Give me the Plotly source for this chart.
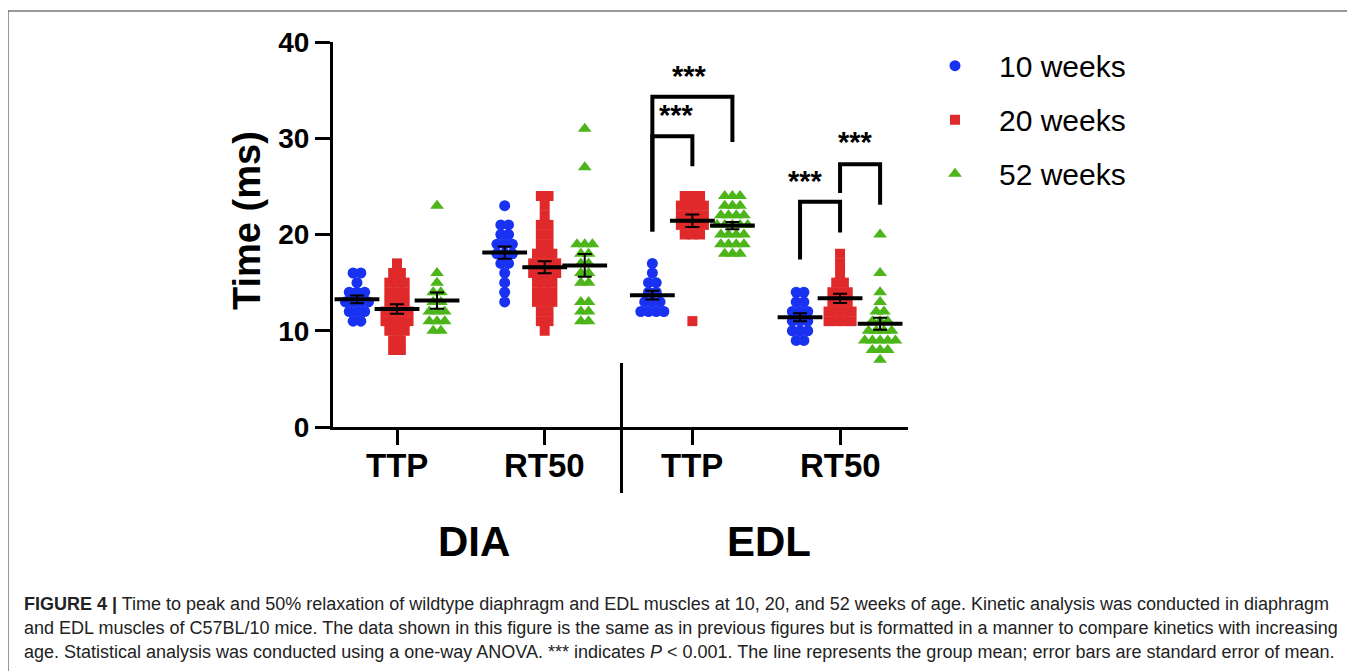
import numpy as np
import plotly.graph_objects as go

# ---------------- data ----------------
categories = ["TTP", "RT50", "TTP", "RT50"]
muscles = ["DIA", "EDL"]
series_names = ["10 weeks", "20 weeks", "52 weeks"]

# values (ms) per group
w10_values = [
    [11, 11, 12, 12, 12, 13, 13, 13, 13, 14, 14, 14, 15, 16, 16],
    [13, 14, 15, 16, 17, 17, 18, 18, 18, 19, 19, 19, 20, 20, 21, 21, 23],
    [12, 12, 12, 12, 13, 13, 13, 14, 14, 15, 15, 16, 17],
    [9, 9, 10, 10, 10, 11, 11, 11, 12, 12, 12, 13, 13, 14, 14],
]
w20_values = [
    [8, 8, 9, 9, 10, 10, 10, 11, 11, 11, 11, 12, 12, 12, 12, 13, 13, 13,
     14, 14, 14, 15, 15, 15, 16, 16, 17],
    [10, 11, 11, 12, 12, 13, 13, 13, 14, 14, 14, 15, 15, 15, 16, 16, 16, 16,
     17, 17, 17, 17, 18, 18, 18, 19, 19, 20, 20, 21, 21, 22, 23, 24, 24],
    [11, 20, 20, 20, 21, 21, 21, 21, 22, 22, 22, 22, 23, 23, 23, 23, 24, 24, 24],
    [11, 11, 11, 11, 12, 12, 12, 12, 13, 13, 13, 14, 14, 14, 15, 15, 16, 17, 18],
]
w52_values = [
    [10, 10, 11, 11, 11, 12, 12, 12, 13, 13, 14, 14, 15, 16, 23],
    [11, 11, 12, 12, 13, 13, 15, 15, 16, 16, 17, 17, 18, 18, 19, 19, 19, 27, 31],
    [18, 18, 18, 19, 19, 19, 19, 20, 20, 20, 20, 21, 21, 21, 21, 21,
     22, 22, 22, 22, 23, 23, 23, 24, 24, 24],
    [7, 8, 8, 8, 9, 9, 9, 9, 9, 10, 10, 10, 10, 11, 11, 11, 12, 12, 13, 14, 16, 20],
]
all_values = [w10_values, w20_values, w52_values]

# significance comparisons: (category index, series a, series b, label)
comparisons = [
    (2, 0, 2, "***"),
    (2, 0, 1, "***"),
    (3, 0, 1, "***"),
    (3, 1, 2, "***"),
]

# ---------------- style ----------------
colors = ["#1932F2", "#E0292B", "#4BB51A"]
symbols = ["circle", "square", "triangle-up"]
msizes = [11, 10, 12]
offsets = [-0.271, 0.0, 0.271]
spread = 0.052  # horizontal spacing of stacked points (category units)

# bracket geometry: top, left-leg bottom, right-leg bottom, star x shift, star y
bracket_geom = [
    (34.3, 20.3, 29.6, -0.02, 36.5),
    (30.2, 20.3, 27.1, 0.03, 32.4),
    (23.4, 17.4, 20.2, -0.10, 25.6),
    (27.3, 24.3, 23.1, -0.03, 29.6),
]

FONT = "Arial, Liberation Sans, Helvetica, sans-serif"

# page offset (browser body margin) compensation
OFF = 8
AX_L, AX_B = 333, 427          # screen px of axes origin
PW, PH = 575, 385              # plot area size


def px_x(px):
    return (px - AX_L) / PW


def px_y(py):
    return (AX_B - py) / PH


fig = go.Figure()

means_x, means_y, sems = [], [], []
for s, name in enumerate(series_names):
    xs, ys = [], []
    for c, vals in enumerate(all_values[s]):
        arr = np.array(vals, dtype=float)
        base = c + offsets[s]
        uniq, counts = np.unique(arr, return_counts=True)
        for u, n in zip(uniq, counts):
            for k in range(n):
                xs.append(base + (k - (n - 1) / 2) * spread)
                ys.append(u)
        means_x.append(base)
        means_y.append(arr.mean())
        sems.append(arr.std(ddof=1) / np.sqrt(len(arr)))
    fig.add_trace(go.Scatter(
        x=xs, y=ys, mode="markers", name=name,
        legendgroup=name,
        marker=dict(color=colors[s], symbol=symbols[s], size=msizes[s],
                    line=dict(width=0)),
    ))

fig.add_trace(go.Scatter(
    x=means_x, y=means_y, mode="markers", showlegend=False,
    marker=dict(symbol="line-ew", size=32, color="black",
                line=dict(color="black", width=4)),
    error_y=dict(type="data", array=sems, visible=True, color="black",
                 thickness=2, width=7),
    hoverinfo="skip",
))

# significance brackets
for (c, a, b, lab), (top, ya, yb, sx, sy) in zip(comparisons, bracket_geom):
    xa = c + offsets[a]
    xb = c + offsets[b]
    fig.add_shape(type="path",
                  path=f"M {xa},{ya} L {xa},{top} L {xb},{top} L {xb},{yb}",
                  xref="x", yref="y", line=dict(color="black", width=4))
    fig.add_annotation(x=(xa + xb) / 2 + sx, y=sy, xref="x", yref="y",
                       text=f"<b>{lab}</b>", showarrow=False,
                       xanchor="center", yanchor="middle",
                       font=dict(family=FONT, size=29, color="black"))

# category tick labels
for i, cat in enumerate(categories):
    fig.add_annotation(x=i, y=px_y(466), xref="x", yref="paper",
                       text=f"<b>{cat}</b>", showarrow=False,
                       xanchor="center", yanchor="middle",
                       font=dict(family=FONT, size=33, color="black"))

# separator between muscles
fig.add_shape(type="line", x0=1.52, x1=1.52, y0=px_y(493), y1=px_y(363),
              xref="x", yref="paper", line=dict(color="black", width=3))

# muscle labels
for i, m in enumerate(muscles):
    fig.add_annotation(x=0.5 + 2 * i + 0.02, y=px_y(541), xref="x", yref="paper",
                       text=f"<b>{m}</b>", showarrow=False,
                       xanchor="center", yanchor="middle",
                       font=dict(family=FONT, size=42, color="black"))

# y-axis title
fig.add_annotation(x=px_x(247), y=px_y(221), xref="paper", yref="paper",
                   text="<b>Time (ms)</b>", textangle=-90, showarrow=False,
                   xanchor="center", yanchor="middle",
                   font=dict(family=FONT, size=38, color="black"))

# caption
caption = [
    "<b>FIGURE 4 |</b> Time to peak and 50% relaxation of wildtype diaphragm and EDL muscles at 10, 20, and 52 weeks of age. Kinetic analysis was conducted in diaphragm",
    "and EDL muscles of C57BL/10 mice. The data shown in this figure is the same as in previous figures but is formatted in a manner to compare kinetics with increasing",
    "age. Statistical analysis was conducted using a one-way ANOVA. *** indicates <i>P</i> &lt; 0.001. The line represents the group mean; error bars are standard error of mean.",
]
cap_y_px = [604, 628, 652]
for line, py in zip(caption, cap_y_px):
    fig.add_annotation(x=px_x(22), y=px_y(py),
                       xref="paper", yref="paper", xanchor="left",
                       yanchor="middle", text=line, showarrow=False,
                       font=dict(family="Liberation Sans Narrow, Arial Narrow, sans-serif",
                                 size=18, color="#222222"))

# figure border
fig.add_shape(type="rect", xref="paper", yref="paper",
              x0=px_x(8), x1=1.8, y0=-0.8, y1=px_y(11),
              line=dict(color="#333333", width=1))

W, H = 1355 - OFF, 671 - OFF
fig.update_layout(
    width=W, height=H,
    margin=dict(l=AX_L - OFF, r=W - (AX_L - OFF) - PW,
                t=(AX_B - PH) - OFF, b=H - (AX_B - OFF)),
    paper_bgcolor="white", plot_bgcolor="white",
    showlegend=True,
    legend=dict(x=px_x(911), y=1.006, xanchor="left", yanchor="top",
                font=dict(family=FONT, size=30, color="black"),
                itemwidth=78, tracegroupgap=12, traceorder="grouped",
                bgcolor="rgba(0,0,0,0)"),
    xaxis=dict(range=[-0.4334, 3.460], tickmode="array",
               tickvals=[0, 1, 2, 3], showticklabels=False,
               showline=True, linecolor="black", linewidth=3,
               ticks="outside", ticklen=15, tickwidth=3, tickcolor="black",
               showgrid=False, zeroline=False),
    yaxis=dict(range=[0, 40], tickvals=[0, 10, 20, 30, 40],
               showline=True, linecolor="black", linewidth=3,
               ticks="outside", ticklen=15, tickwidth=3, tickcolor="black",
               showgrid=False, zeroline=False,
               tickfont=dict(family=FONT, size=28, color="black", weight="bold")),
)

fig.write_html("out.html")
